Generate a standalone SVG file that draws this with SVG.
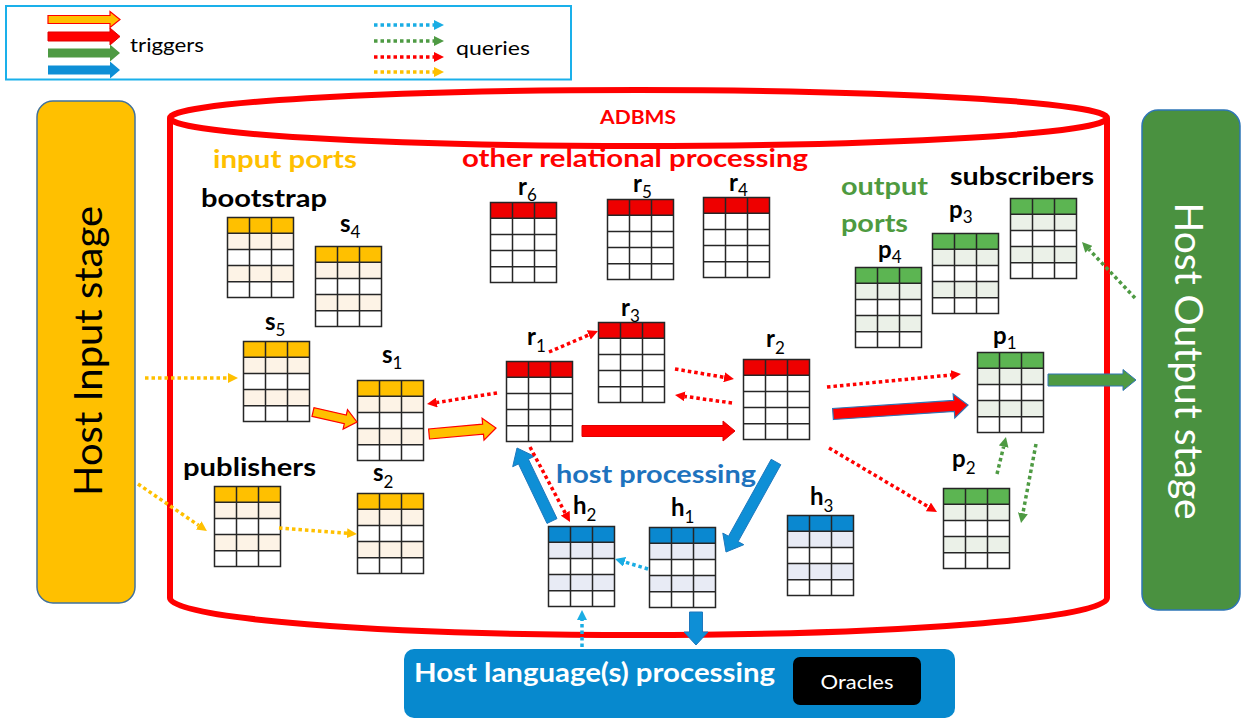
<svg xmlns="http://www.w3.org/2000/svg" xmlns:xlink="http://www.w3.org/1999/xlink" width="1243" height="720" viewBox="0 0 1243 720">
<style>
text{font-family:Lato,"Liberation Sans",sans-serif}
.lbl{font-weight:bold;font-size:24px;fill:#000}
.sub{font-weight:normal;font-size:17px}
.grid{fill:none;stroke:#262626;stroke-width:1.5}
.dq{fill:none;stroke-width:3.5;stroke-dasharray:3.5 3}
.qb{stroke:#1AADE4}.qg{stroke:#4E9A43}.qr{stroke:#FF0000}.qy{stroke:#FFC000}
.ty{fill:#FFC000;stroke:#FF0000;stroke-width:1.2}
.tr{fill:#FF0000;stroke:#E00000;stroke-width:1}
.tg{fill:#4E9A43;stroke:#2E75B6;stroke-width:1}
.tb{fill:#0E8FD6;stroke:#1E78BE;stroke-width:1}
.trb{fill:#FF0000;stroke:#2E75B6;stroke-width:1.2}
</style>
<defs>
<path id="grid" class="grid" d="M0.5,0.5H66.5V80.5H0.5Z M0.5,16.2H66.5 M0.5,32.4H66.5 M0.5,48.6H66.5 M0.5,64.8H66.5 M22.5,0.5V80.5 M44.5,0.5V80.5"/>
<g id="tY"><rect width="67" height="81" fill="#fff"/><rect width="67" height="16.2" fill="#FFC000"/><rect y="16.2" width="67" height="16.2" fill="#FDF3E6"/><rect y="48.6" width="67" height="16.2" fill="#FDF3E6"/><use href="#grid"/></g>
<g id="tR"><rect width="67" height="81" fill="#fff"/><rect width="67" height="16.2" fill="#EE0000"/><use href="#grid"/></g>
<g id="tG"><rect width="67" height="81" fill="#fff"/><rect width="67" height="16.2" fill="#5CB552"/><rect y="16.2" width="67" height="16.2" fill="#EBF1E8"/><rect y="48.6" width="67" height="16.2" fill="#EBF1E8"/><use href="#grid"/></g>
<g id="tB"><rect width="67" height="81" fill="#fff"/><rect width="67" height="16.2" fill="#0A88D0"/><rect y="16.2" width="67" height="16.2" fill="#E8EBF5"/><rect y="48.6" width="67" height="16.2" fill="#E8EBF5"/><use href="#grid"/></g>
<marker id="mB" markerUnits="userSpaceOnUse" markerWidth="10" markerHeight="10" refX="0" refY="5" orient="auto" viewBox="0 0 10 10"><path d="M0,0L10,5L0,10z" fill="#1AADE4"/></marker>
<marker id="mG" markerUnits="userSpaceOnUse" markerWidth="10" markerHeight="10" refX="0" refY="5" orient="auto" viewBox="0 0 10 10"><path d="M0,0L10,5L0,10z" fill="#4E9A43"/></marker>
<marker id="mR" markerUnits="userSpaceOnUse" markerWidth="10" markerHeight="10" refX="0" refY="5" orient="auto" viewBox="0 0 10 10"><path d="M0,0L10,5L0,10z" fill="#FF0000"/></marker>
<marker id="mY" markerUnits="userSpaceOnUse" markerWidth="10" markerHeight="10" refX="0" refY="5" orient="auto" viewBox="0 0 10 10"><path d="M0,0L10,5L0,10z" fill="#FFC000"/></marker>
</defs>
<rect width="1243" height="720" fill="#fff"/>

<g id="legend">
<rect x="6" y="6" width="565" height="73.5" fill="#fff" stroke="#1AB0EA" stroke-width="2"/>
<polygon class="ty" points="48,15.5 110,15.5 110,11.5 120,19.5 110,27.5 110,23.5 48,23.5"/>
<polygon class="tr" points="48,32 110,32 110,28 120,36.5 110,45 110,41 48,41"/>
<polygon fill="#4E9A43" points="48,48.5 110,48.5 110,44.5 120,53 110,61.5 110,57.5 48,57.5"/>
<polygon fill="#0E8FD6" points="48,65.5 110,65.5 110,61.5 120,70 110,78.5 110,74.5 48,74.5"/>
<text x="130" y="52" font-size="20" textLength="74" lengthAdjust="spacingAndGlyphs">triggers</text>
<line class="dq qb" x1="374" y1="25" x2="434" y2="25" marker-end="url(#mB)"/>
<line class="dq qg" x1="374" y1="41" x2="434" y2="41" marker-end="url(#mG)"/>
<line class="dq qr" x1="374" y1="57" x2="434" y2="57" marker-end="url(#mR)"/>
<line class="dq qy" x1="374" y1="72" x2="434" y2="72" marker-end="url(#mY)"/>
<text x="456" y="55" font-size="20" textLength="74" lengthAdjust="spacingAndGlyphs">queries</text>
</g>

<g id="host-input">
<rect x="37" y="101" width="98" height="502" rx="16" fill="#FFC000" stroke="#41719C" stroke-width="1.5"/>
<text transform="translate(102,351) rotate(-90)" text-anchor="middle" font-size="38" textLength="290" lengthAdjust="spacingAndGlyphs">Host Input stage</text>
</g>

<g id="host-output">
<rect x="1142" y="110" width="98" height="500" rx="16" fill="#4A9140" stroke="#2E75B6" stroke-width="1.5"/>
<text transform="translate(1175,361) rotate(90)" text-anchor="middle" font-size="38" fill="#fff" textLength="317" lengthAdjust="spacingAndGlyphs">Host Output stage</text>
</g>

<g id="adbms">
<path d="M170,118 V598 A468.5,37 0 0 0 1107,598 V118" fill="none" stroke="#FF0000" stroke-width="6"/>
<ellipse cx="638.5" cy="118" rx="468.5" ry="28" fill="none" stroke="#FF0000" stroke-width="6"/>
<text x="600" y="124" font-size="18" font-weight="bold" fill="#FF0000" textLength="76" lengthAdjust="spacingAndGlyphs">ADBMS</text>
<text x="213" y="168" font-size="25" font-weight="bold" fill="#FFC000" textLength="144" lengthAdjust="spacingAndGlyphs">input ports</text>
<text x="462" y="167" font-size="25" font-weight="bold" fill="#FF0000" textLength="346" lengthAdjust="spacingAndGlyphs">other relational processing</text>
<text x="841" y="195" font-size="25" font-weight="bold" fill="#4E9A40" textLength="87" lengthAdjust="spacingAndGlyphs">output</text>
<text x="841" y="232" font-size="25" font-weight="bold" fill="#4E9A40" textLength="67" lengthAdjust="spacingAndGlyphs">ports</text>
<text x="556" y="483" font-size="24" font-weight="bold" fill="#1E73BE" textLength="200" lengthAdjust="spacingAndGlyphs">host processing</text>
</g>

<g id="host-language">
<rect x="404" y="649" width="551" height="69" rx="10" fill="#0789CE"/>
<text x="414" y="682" font-size="26" font-weight="bold" fill="#fff" textLength="361" lengthAdjust="spacingAndGlyphs">Host language(s) processing</text>
<g id="oracles">
<rect x="793" y="657" width="128" height="48" rx="7" fill="#000"/>
<text x="857" y="689" font-size="20" fill="#fff" text-anchor="middle" textLength="73" lengthAdjust="spacingAndGlyphs">Oracles</text>
</g>
</g>

<g id="bootstrap"><use href="#tY" x="227" y="217"/><text class="lbl" x="201" y="207" textLength="126" lengthAdjust="spacingAndGlyphs">bootstrap</text></g>
<g id="s4"><use href="#tY" x="315" y="246"/><text class="lbl" x="340" y="232">s<tspan class="sub" dy="6">4</tspan></text></g>
<g id="s5"><use href="#tY" x="243" y="341"/><text class="lbl" x="265" y="330">s<tspan class="sub" dy="6">5</tspan></text></g>
<g id="s1"><use href="#tY" x="357" y="380"/><text class="lbl" x="382" y="363">s<tspan class="sub" dy="6">1</tspan></text></g>
<g id="publishers"><use href="#tY" x="214" y="486"/><text class="lbl" x="183" y="476" textLength="133" lengthAdjust="spacingAndGlyphs">publishers</text></g>
<g id="s2"><use href="#tY" x="357" y="493"/><text class="lbl" x="373" y="481">s<tspan class="sub" dy="7">2</tspan></text></g>
<g id="r6"><use href="#tR" x="490" y="202"/><text class="lbl" x="518" y="195">r<tspan class="sub" dy="6">6</tspan></text></g>
<g id="r5"><use href="#tR" x="607" y="199"/><text class="lbl" x="633" y="192">r<tspan class="sub" dy="6">5</tspan></text></g>
<g id="r4"><use href="#tR" x="703" y="197"/><text class="lbl" x="729" y="191">r<tspan class="sub" dy="5">4</tspan></text></g>
<g id="r3"><use href="#tR" x="598" y="322"/><text class="lbl" x="621" y="316">r<tspan class="sub" dy="6">3</tspan></text></g>
<g id="r1"><use href="#tR" x="506" y="361"/><text class="lbl" x="527" y="345">r<tspan class="sub" dy="7">1</tspan></text></g>
<g id="r2"><use href="#tR" x="743" y="359"/><text class="lbl" x="766" y="347">r<tspan class="sub" dy="7">2</tspan></text></g>
<g id="p4"><use href="#tG" x="855" y="267"/><text class="lbl" x="878" y="258">p<tspan class="sub" dy="5">4</tspan></text></g>
<g id="p3"><use href="#tG" x="932" y="233"/><text class="lbl" x="949" y="218">p<tspan class="sub" dy="5">3</tspan></text></g>
<g id="subscribers"><use href="#tG" x="1010" y="198"/><text class="lbl" x="950" y="185" textLength="144" lengthAdjust="spacingAndGlyphs">subscribers</text></g>
<g id="p1"><use href="#tG" x="977" y="352"/><text class="lbl" x="993" y="344">p<tspan class="sub" dy="5">1</tspan></text></g>
<g id="p2"><use href="#tG" x="943" y="488"/><text class="lbl" x="952" y="467">p<tspan class="sub" dy="7">2</tspan></text></g>
<g id="h2"><use href="#tB" x="548" y="526"/><text class="lbl" x="573" y="514">h<tspan class="sub" dy="7">2</tspan></text></g>
<g id="h1"><use href="#tB" x="649" y="527"/><text class="lbl" x="671" y="516">h<tspan class="sub" dy="7">1</tspan></text></g>
<g id="h3"><use href="#tB" x="787" y="515"/><text class="lbl" x="810" y="505">h<tspan class="sub" dy="7">3</tspan></text></g>

<g id="connectors">
<polygon class="ty" points="312,416.4 344.3,423.7 343.1,429.1 357,422 347.5,409.6 346.3,415 314,407.6"/>
<polygon class="ty" points="429.5,439 483.5,434.1 484,440.1 496,428 482.1,418.2 482.6,424.2 428.6,429"/>
<polygon class="tr" points="582,425.5 723,425.5 723,421 735,431 723,441 723,436.5 582,436.5"/>
<polygon class="trb" points="833.4,419.5 954.4,411.4 954.8,417.9 968,405 953.2,394 953.7,400.4 832.6,408.5"/>
<polygon class="tg" points="1048,374 1123,374 1123,369.5 1136,380 1123,390.5 1123,386 1048,386"/>
<polygon class="tb" points="557,518.6 528.4,459.2 534.3,456.3 517,448 512.7,466.7 518.5,463.9 547,523.4"/>
<polygon class="tb" points="771.2,459.3 728.5,536.2 722.8,533.1 726,552 743.8,544.7 738.1,541.6 780.8,464.7"/>
<polygon class="tb" points="689.5,612 689.5,632 684,632 696,645 708,632 702.5,632 702.5,612"/>

<line class="dq qy" x1="145" y1="378" x2="228" y2="378" marker-end="url(#mY)"/>
<line class="dq qy" x1="138" y1="484" x2="198.7" y2="525.4" marker-end="url(#mY)"/>
<line class="dq qy" x1="279" y1="528" x2="347" y2="533.2" marker-end="url(#mY)"/>
<line class="dq qr" x1="497" y1="393" x2="436.9" y2="402.5" marker-end="url(#mR)"/>
<line class="dq qr" x1="549" y1="352" x2="588.8" y2="334.9" marker-end="url(#mR)"/>
<line class="dq qr" x1="530" y1="447" x2="565.3" y2="513.2" marker-end="url(#mR)"/>
<line class="dq qr" x1="675" y1="369" x2="724.1" y2="377.3" marker-end="url(#mR)"/>
<line class="dq qr" x1="732" y1="403" x2="684.9" y2="396.4" marker-end="url(#mR)"/>
<line class="dq qr" x1="827" y1="387" x2="951" y2="375" marker-end="url(#mR)"/>
<line class="dq qr" x1="829" y1="448" x2="928.4" y2="506.9" marker-end="url(#mR)"/>
<line class="dq qg" x1="997" y1="474" x2="1003.6" y2="446.7" marker-end="url(#mG)"/>
<line class="dq qg" x1="1036" y1="444" x2="1022.9" y2="513.2" marker-end="url(#mG)"/>
<line class="dq qg" x1="1135" y1="298" x2="1088.9" y2="249.3" marker-end="url(#mG)"/>
<line class="dq qb" x1="648" y1="569" x2="624.6" y2="561.9" marker-end="url(#mB)"/>
<line class="dq qb" x1="582" y1="647" x2="582" y2="620" marker-end="url(#mB)"/>
</g>
</svg>
